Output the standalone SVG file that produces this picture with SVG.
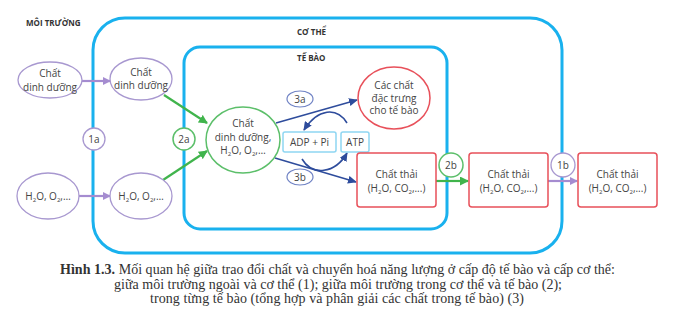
<svg xmlns="http://www.w3.org/2000/svg" width="680" height="327" viewBox="0 0 680 327">
<style>
.t{font-family:"Open Sans","Liberation Sans",sans-serif;font-size:10px;fill:#444;text-anchor:middle}
.h{font-family:"Open Sans","Liberation Sans",sans-serif;font-size:8px;font-weight:bold;fill:#333}
.cap{font-family:"Liberation Serif",serif;font-size:14px;fill:#333}
.sub{font-size:6px}
.pe{fill:#fff;stroke:#a898d0;stroke-width:1.3}
.ge{fill:#fff;stroke:#5cbf6a;stroke-width:1.5}
.re{fill:#fff;stroke:#e8505a;stroke-width:1.5}
.be{fill:#fff;stroke:#6f82c4;stroke-width:1.2}
.lb{fill:#fff;stroke:#8fd6f2;stroke-width:1.5}
.box{fill:none;stroke:#19b1ee;stroke-width:3}
.pa{stroke:#a58cd0;stroke-width:2.2;fill:none}
.ga{stroke:#40b44c;stroke-width:2.2;fill:none}
.ba{stroke:#2e4c9c;stroke-width:1.6;fill:none}
</style>
<defs>
<marker id="mp" markerWidth="8" markerHeight="8" refX="7" refY="4" orient="auto" markerUnits="userSpaceOnUse" viewBox="0 0 8 8"><path d="M0,0 L8,4 L0,8 z" fill="#a58cd0"/></marker>
<marker id="mg" markerWidth="9" markerHeight="9" refX="8" refY="4.5" orient="auto" markerUnits="userSpaceOnUse" viewBox="0 0 9 9"><path d="M0,0 L9,4.5 L0,9 z" fill="#40b44c"/></marker>
<marker id="mb" markerWidth="9" markerHeight="8" refX="8" refY="4" orient="auto" markerUnits="userSpaceOnUse" viewBox="0 0 9 8"><path d="M0,0 L9,4 L0,8 z" fill="#2e4c9c"/></marker>
</defs>

<g id="co-the"><rect class="box" x="93" y="18" width="469" height="235" rx="32"/><text class="h" x="297" y="35">CƠ THỂ</text></g>
<g id="te-bao"><rect class="box" x="184" y="47" width="263" height="182" rx="16"/><text class="h" x="297" y="61">TẾ BÀO</text></g>
<g id="moi-truong"><text class="h" x="26" y="26">MÔI TRƯỜNG</text></g>

<g id="connectors">
<line class="pa" x1="82" y1="81" x2="110" y2="81" marker-end="url(#mp)"/>
<line class="pa" x1="79" y1="196" x2="110" y2="196" marker-end="url(#mp)"/>
<line class="ga" x1="164" y1="95" x2="207" y2="123" marker-end="url(#mg)"/>
<line class="ga" x1="163" y1="180" x2="207" y2="151" marker-end="url(#mg)"/>
<line class="ba" x1="276" y1="123" x2="357" y2="100" marker-end="url(#mb)"/>
<line class="ba" x1="275" y1="158" x2="356" y2="182" marker-end="url(#mb)"/>
<path class="ba" d="M347,123 C337,107 318,108 304,130" marker-end="url(#mb)"/>
<path class="ba" d="M302,159 C312,176 335,174 347,153" marker-end="url(#mb)"/>
<line class="ga" x1="436" y1="181" x2="468" y2="181" marker-end="url(#mg)"/>
<line class="pa" x1="548" y1="181" x2="577" y2="181" marker-end="url(#mp)"/>
</g>

<g id="n1"><ellipse class="pe" cx="50" cy="80" rx="32" ry="18"/><text class="t" x="50" y="77">Chất</text><text class="t" x="50" y="91">dinh dưỡng</text></g>
<g id="n2"><ellipse class="pe" cx="141" cy="79" rx="31" ry="21"/><text class="t" x="141" y="76">Chất</text><text class="t" x="141" y="89">dinh dưỡng</text></g>
<g id="n3"><ellipse class="pe" cx="48" cy="196" rx="31" ry="23"/><text class="t" x="48" y="200">H<tspan class="sub" dy="2">2</tspan><tspan dy="-2">O, O</tspan><tspan class="sub" dy="2">2</tspan><tspan dy="-2">,…</tspan></text></g>
<g id="n4"><ellipse class="pe" cx="141" cy="196" rx="31" ry="23"/><text class="t" x="141" y="200">H<tspan class="sub" dy="2">2</tspan><tspan dy="-2">O, O</tspan><tspan class="sub" dy="2">2</tspan><tspan dy="-2">,…</tspan></text></g>
<g id="l1a"><circle class="pe" cx="94" cy="139" r="11"/><text class="t" x="94" y="143">1a</text></g>
<g id="l2a"><circle class="ge" cx="184" cy="139" r="11" stroke-width="1.2"/><text class="t" x="184" y="143">2a</text></g>
<g id="n5"><ellipse class="ge" cx="243" cy="140" rx="37" ry="33"/><text class="t" x="243" y="127">Chất</text><text class="t" x="243" y="141">dinh dưỡng,</text><text class="t" x="243" y="154">H<tspan class="sub" dy="2">2</tspan><tspan dy="-2">O, O</tspan><tspan class="sub" dy="2">2</tspan><tspan dy="-2">,…</tspan></text></g>
<g id="n6"><ellipse class="re" cx="394" cy="98" rx="36" ry="31"/><text class="t" x="394" y="89" font-size="9.5">Các chất</text><text class="t" x="394" y="101.5" font-size="9.5">đặc trưng</text><text class="t" x="394" y="114" font-size="9.5">cho tế bào</text></g>
<g id="l3a"><ellipse class="be" cx="300" cy="99" rx="13" ry="8"/><text class="t" x="300" y="103">3a</text></g>
<g id="l3b"><ellipse class="be" cx="300" cy="177" rx="13" ry="8"/><text class="t" x="300" y="181">3b</text></g>
<g id="adp"><rect class="lb" x="283" y="132" width="53" height="20" rx="2"/><text class="t" x="309.5" y="146">ADP + Pi</text></g>
<g id="atp"><rect class="lb" x="341" y="132" width="28" height="20" rx="2"/><text class="t" x="355" y="146">ATP</text></g>
<g id="w1"><rect class="re" x="357" y="153" width="79" height="54" rx="3"/><text class="t" x="396.5" y="178">Chất thải</text><text class="t" x="396.5" y="192">(H<tspan class="sub" dy="2">2</tspan><tspan dy="-2">O, CO</tspan><tspan class="sub" dy="2">2</tspan><tspan dy="-2">,...)</tspan></text></g>
<g id="w2"><rect class="re" x="469" y="153" width="79" height="54" rx="3"/><text class="t" x="508.5" y="178">Chất thải</text><text class="t" x="508.5" y="192">(H<tspan class="sub" dy="2">2</tspan><tspan dy="-2">O, CO</tspan><tspan class="sub" dy="2">2</tspan><tspan dy="-2">,...)</tspan></text></g>
<g id="w3"><rect class="re" x="578" y="153" width="79" height="54" rx="3"/><text class="t" x="617.5" y="178">Chất thải</text><text class="t" x="617.5" y="192">(H<tspan class="sub" dy="2">2</tspan><tspan dy="-2">O, CO</tspan><tspan class="sub" dy="2">2</tspan><tspan dy="-2">,...)</tspan></text></g>
<g id="l2b"><circle class="ge" cx="451" cy="165" r="12" stroke-width="1.2"/><text class="t" x="451" y="169">2b</text></g>
<g id="l1b"><circle class="pe" cx="563" cy="165" r="12"/><text class="t" x="563" y="169">1b</text></g>

<g id="caption">
<text class="cap" x="60" y="274" textLength="555" lengthAdjust="spacing"><tspan font-weight="bold">Hình 1.3.</tspan> Mối quan hệ giữa trao đổi chất và chuyển hoá năng lượng ở cấp độ tế bào và cấp cơ thể:</text>
<text class="cap" x="114" y="289" textLength="448" lengthAdjust="spacing">giữa môi trường ngoài và cơ thể (1); giữa môi trường trong cơ thể và tế bào (2);</text>
<text class="cap" x="150" y="303" textLength="374" lengthAdjust="spacing">trong từng tế bào (tổng hợp và phân giải các chất trong tế bào) (3)</text>
</g>
</svg>
